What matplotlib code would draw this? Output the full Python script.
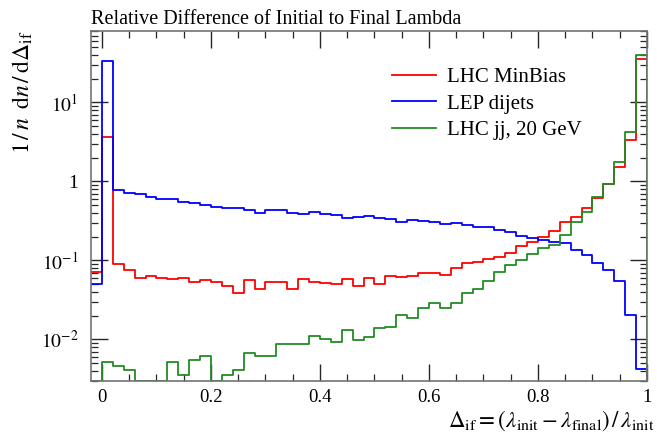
import numpy as np
import matplotlib
matplotlib.use("Agg")
import matplotlib.pyplot as plt
from matplotlib.ticker import FixedLocator, FixedFormatter, LogLocator, NullFormatter, MultipleLocator

plt.rcParams['font.family'] = ['Liberation Serif', 'DejaVu Serif']
plt.rcParams['mathtext.fontset'] = 'stix'

# bin edges of the histograms
edges = np.round(np.arange(-0.02, 1.0001, 0.02), 2)

# 1/n dn/dDelta per bin
lhc_minbias = [0.071, 3.67, 0.0886, 0.075, 0.0595, 0.0625, 0.059, 0.0573, 0.0595, 0.053,
               0.0556, 0.0525, 0.0476, 0.0388, 0.0556, 0.0432, 0.053, 0.053, 0.044, 0.0578,
               0.0525, 0.051, 0.0495, 0.0573, 0.0467, 0.059, 0.0505, 0.0625, 0.0613, 0.063,
               0.0696, 0.069, 0.0643, 0.0796, 0.092, 0.094, 0.1025, 0.1117, 0.1233, 0.1525,
               0.173, 0.2, 0.236, 0.303, 0.351, 0.465, 0.61, 0.925, 1.53, 3.33,
               35.4]
lep_dijets = [0.050, 33.0, 0.78, 0.71, 0.69, 0.63, 0.59, 0.59, 0.55, 0.53,
              0.50, 0.48, 0.456, 0.465, 0.435, 0.402, 0.43, 0.435, 0.398, 0.39,
              0.41, 0.383, 0.372, 0.344, 0.355, 0.368, 0.348, 0.334, 0.306, 0.325,
              0.318, 0.31, 0.289, 0.295, 0.284, 0.262, 0.267, 0.243, 0.231, 0.206,
              0.19, 0.1815, 0.1696, 0.165, 0.135, 0.117, 0.093, 0.0755, 0.055, 0.0206,
              0.0042]
lhc_jj20 = [0.0, 0.0051, 0.00456, 0.0041, 0.0, 0.0, 0.0, 0.0051, 0.00358, 0.00553,
            0.0061, 0.0, 0.00355, 0.0041, 0.00665, 0.0061, 0.0061, 0.00873, 0.00873, 0.00873,
            0.0111, 0.0101, 0.0092, 0.013, 0.0097, 0.0106, 0.0139, 0.0142, 0.0206, 0.0187,
            0.0252, 0.0291, 0.0249, 0.0288, 0.0383, 0.0436, 0.054, 0.071, 0.087, 0.101,
            0.122, 0.145, 0.155, 0.21, 0.307, 0.415, 0.64, 0.925, 1.74, 4.24,
            40.2]

labels = ['LHC MinBias', 'LEP dijets', 'LHC jj, 20 GeV']
colors = ['#ff0000', '#0000ff', '#228b22']

ylo, yhi = 0.00297, 80.0

fig = plt.figure(figsize=(6.57, 4.33), dpi=100)
ax = fig.add_axes([91/657, 1 - 381/433, 556/657, 350/433])

for vals, lab, col in zip([lhc_minbias, lep_dijets, lhc_jj20], labels, colors):
    v = np.maximum(np.asarray(vals, float), ylo)   # empty bins sit on the axis
    x = np.r_[edges, edges[-1]]
    y = np.r_[v, v[-1], ylo]
    ax.plot(x, y, drawstyle='steps-post', color=col, lw=1.3, label=lab)

ax.set_yscale('log')
ax.set_xlim(-0.02, 1.0)
ax.set_ylim(ylo, yhi)

# ticks, Rivet style
ax.xaxis.set_major_locator(FixedLocator([0, 0.2, 0.4, 0.6, 0.8, 1.0]))
ax.xaxis.set_major_formatter(FixedFormatter(['0', '0.2', '0.4', '0.6', '0.8', '1']))
ax.xaxis.set_minor_locator(MultipleLocator(0.05))
ax.yaxis.set_major_locator(FixedLocator([0.01, 0.1, 1, 10]))
ax.yaxis.set_major_formatter(FixedFormatter([r'$10^{-2}$', r'$10^{-1}$', '1', r'$10^{1}$']))
ax.yaxis.set_minor_locator(LogLocator(base=10, subs=np.arange(2, 10), numticks=20))
ax.yaxis.set_minor_formatter(NullFormatter())

ax.tick_params(which='both', direction='in', top=True, right=True, colors='0.15',
               labelcolor='black', labelsize=14)
ax.tick_params(axis='x', labelsize=13.5, pad=6)
ax.tick_params(axis='y', pad=9)
ax.tick_params(which='major', length=12.5, width=1.0)
ax.tick_params(which='minor', length=5, width=0.9)
for sp in ax.spines.values():
    sp.set_color('0.45')
    sp.set_linewidth(1.2)

ax.text(0, 1 + 7/350, 'Relative Difference of Initial to Final Lambda',
        transform=ax.transAxes, ha='left', va='baseline', fontsize=14.5)
ax.text(564/556, -46/350,
        r'$\Delta_{\rm if} = (\lambda_{\rm init} - \lambda_{\rm final})\,/\,\lambda_{\rm init}$',
        transform=ax.transAxes, ha='right', va='baseline', fontsize=16.5)
ax.text(-68/556, 1, r'$1\,/\,n\;\;{\rm d}n\,/\,{\rm d}\Delta_{\rm if}$',
        transform=ax.transAxes, ha='center', va='top', rotation=90, fontsize=17)

ax.legend(loc='upper left', bbox_to_anchor=(0.541, 0.895), frameon=False, fontsize=15,
          handlelength=2.1, handletextpad=0.55, labelspacing=0.33, borderpad=0, borderaxespad=0)

fig.savefig('out.png', dpi=100)
